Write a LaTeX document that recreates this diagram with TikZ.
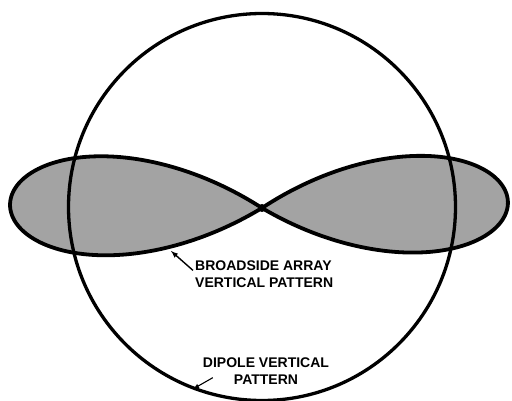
\documentclass[tikz,border=0pt]{standalone}
\usepackage{fontspec}
\setmainfont{Liberation Sans}
\begin{document}
\begin{tikzpicture}[x=1pt, y=-1pt, >=latex, line join=round]
\useasboundingbox (0,0) rectangle (512,401);
\tikzset{lobe/.style={draw, line width=3.8pt, fill=black!36},
  labeltext/.style={inner sep=0, font=\bfseries\fontsize{14}{16.5}\selectfont}}
% broadside array lobes
\draw[lobe] plot[domain=-32:32, samples=121, smooth]
  ({262+252*cos(90/32*\x)*cos(180.8+\x)}, {208+252*cos(90/32*\x)*sin(180.8+\x)}) -- cycle;
\draw[lobe] plot[domain=-32:32, samples=121, smooth]
  ({262+246*cos(90/32*\x)*cos(-1.4+\x)}, {208+246*cos(90/32*\x)*sin(-1.4+\x)}) -- cycle;
\fill (262,208) circle (4);
% dipole vertical pattern
\draw[line width=3.3pt] (262,207) circle (193.5);
% labels
\node[labeltext, align=left, anchor=north west] (bsa) at (195,261) {BROADSIDE ARRAY\\VERTICAL PATTERN};
\node[labeltext, align=center, anchor=north] (dip) at (266,358) {DIPOLE VERTICAL\\PATTERN};
\coordinate (bsatip) at (171,251);
\coordinate (diptip) at (193,389);
\draw[->, line width=1.4pt] ([shift={(-2,-4)}]bsa.west) -- (bsatip);
\draw[->, line width=1.1pt] ([shift={(10,-7)}]dip.south west) -- (diptip);
\end{tikzpicture}
\end{document}
